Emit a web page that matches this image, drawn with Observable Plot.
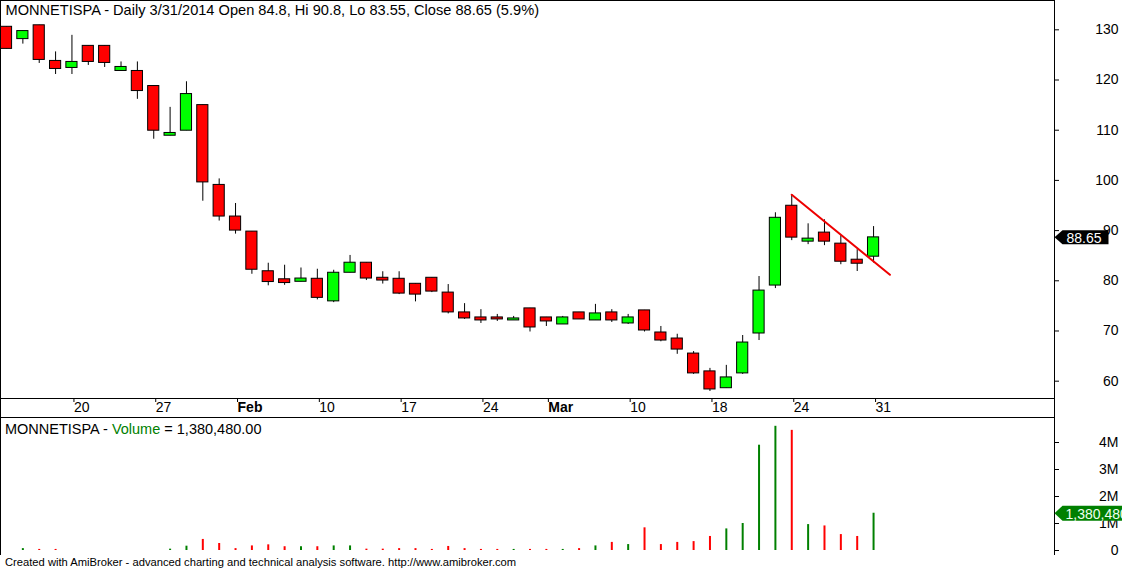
<!DOCTYPE html>
<html>
<head>
<meta charset="utf-8">
<script src="https://cdn.jsdelivr.net/npm/d3@7"></script>
<script src="https://cdn.jsdelivr.net/npm/@observablehq/plot@0.6"></script>
<style>
  html, body { margin: 0; padding: 0; background: white; }
  body { width: 1122px; height: 570px; position: relative; overflow: hidden; font-family: "Liberation Sans", Arial, sans-serif; }
  #price, #volume { position: absolute; left: 0; }
  #price { top: 0; }
  #volume { top: 417px; }
  .ovl { position: absolute; white-space: nowrap; color: black; }
  #vtitle { left: 5px; top: 421px; font-size: 14.5px; line-height: 16px; }
  #caption { left: 5px; top: 556px; font-size: 11.2px; line-height: 13px; }
</style>
</head>
<body>
<div id="price"></div>
<div id="volume"></div>
<div id="vtitle" class="ovl">MONNETISPA - <span style="color:#008000">Volume</span> = 1,380,480.00</div>
<div id="caption" class="ovl">Created with AmiBroker - advanced charting and technical analysis software. http://www.amibroker.com</div>
<script>
// ---- data (trading days 14 Jan 2014 .. 31 Mar 2014) ----
const opens  = [130.6,128.15,130.9,123.8,122.4,126.8,126.8,121.8,121.8,118.8,108.9,109.9,115.0,99.1,92.8,89.8,81.9,80.3,79.8,80.4,75.9,81.6,83.6,80.6,80.4,79.4,80.6,77.65,73.7,72.7,72.7,72.1,74.5,72.7,71.3,73.7,72.1,73.7,71.5,74.1,69.7,68.5,65.5,61.95,58.6,61.55,69.5,79.05,94.95,87.8,89.6,87.4,84.2,84.8];
const highs  = [130.6,129.75,130.9,125.6,128.9,126.8,126.8,123.6,123.6,118.8,114.55,119.65,115.0,100.3,95.4,89.8,83.5,83.1,82.55,82.3,82.1,85.05,83.6,81.8,81.8,79.4,80.6,79.25,75.45,74.25,73.3,72.9,74.5,72.7,72.9,73.7,75.3,74.25,73.3,74.1,70.9,69.35,65.9,62.55,63.15,69.1,80.85,93.55,97.15,91.35,92.15,89.0,86.2,90.8];
const lows   = [126.2,127.15,123.3,121.1,121.1,122.9,122.5,121.8,116.15,108.2,108.9,109.9,95.85,91.9,89.3,81.3,79.0,79.1,79.8,76.2,75.65,81.6,80.05,79.35,77.25,75.8,77.65,73.4,72.3,71.5,71.9,72.1,69.8,70.9,71.3,72.3,72.1,71.7,71.3,69.8,67.85,65.35,61.35,57.95,58.6,61.35,68.1,78.45,88.0,87.2,87.0,83.2,81.85,83.55];
const closes = [126.2,129.75,124.0,122.2,123.6,123.6,123.4,122.6,117.8,109.9,109.45,117.2,99.6,92.8,90.0,82.2,79.75,79.55,80.45,76.6,81.6,83.6,80.45,80.05,77.45,77.25,77.85,73.7,72.5,72.1,72.3,72.5,70.7,71.9,72.7,72.3,73.5,72.1,72.7,70.1,68.1,66.3,61.55,58.35,60.75,67.7,78.05,92.55,88.6,88.4,87.8,83.8,83.4,88.65];
const volumes = [0,70000,40000,40000,0,0,0,0,0,0,50000,160000,410000,260000,70000,170000,210000,140000,140000,140000,170000,170000,50000,50000,70000,70000,40000,150000,70000,40000,40000,40000,40000,40000,40000,70000,170000,300000,220000,840000,220000,300000,330000,520000,800000,1000000,3900000,4600000,4450000,960000,910000,590000,520000,1380480];

// weekly date ticks (trading-day index) and their labels
const tickIndex  = [4, 9, 14, 19, 24, 29, 33, 38, 43, 48, 53];
const tickLabels = ["20", "27", "Feb", "10", "17", "24", "Mar", "10", "18", "24", "31"];
const monthLabels = ["Feb", "Mar"];

// hand-drawn trend line (index, price)
const trendIdx   = [48, 54];
const trendPrice = [97.15, 81.2];

const priceTicks  = [60, 70, 80, 90, 100, 110, 120, 130];
const volumeTicks = [0, 1e6, 2e6, 3e6, 4e6];

const priceTitle = "MONNETISPA - Daily 3/31/2014 Open 84.8, Hi 90.8, Lo 83.55, Close 88.65 (5.9%)";

// ---- derived tables ----
const bars = opens.map((o, i) => ({i, open: o, high: highs[i], low: lows[i], close: closes[i], vol: volumes[i]}));
const trend = trendIdx.map((t, k) => ({i: t, p: trendPrice[k]}));
const last = bars[bars.length - 1];

const UP = "#00ff00", DOWN = "#ff0000", VUP = "#008000";
const xDomain = [-0.367, 64.06];
const yDomain = [56.55, 135.84];
const vDomain = [-0.185e6, 4.926e6];

const fontStyle = {fontFamily: "'Liberation Sans', Arial, sans-serif", fontSize: "14px", background: "white", color: "black", overflow: "visible"};

// left-pointing price tag shapes
const tag = (w, h) => ({draw(ctx) { ctx.moveTo(0, 0); ctx.lineTo(8, -h / 2); ctx.lineTo(w, -h / 2); ctx.lineTo(w, h / 2); ctx.lineTo(8, h / 2); ctx.closePath(); }});

const labelOf = (i) => tickLabels[tickIndex.indexOf(i)];
const dayTicks = tickIndex.filter(i => !monthLabels.includes(labelOf(i)));
const monTicks = tickIndex.filter(i => monthLabels.includes(labelOf(i)));

const price = Plot.plot({
  width: 1122, height: 417,
  marginTop: 0, marginLeft: 0, marginRight: 68, marginBottom: 19,
  style: fontStyle,
  x: {type: "linear", domain: xDomain, label: null},
  y: {type: "linear", domain: yDomain, label: null},
  color: {type: "identity"},
  marks: [
    Plot.frame({stroke: "black"}),
    Plot.ruleX([xDomain[0], xDomain[1]], {stroke: "black", insetBottom: -19}),
    Plot.axisX(dayTicks, {anchor: "bottom", label: null, tickSize: 4, tickPadding: 0, textAnchor: "start", dx: 2, tickFormat: labelOf, fontSize: 14}),
    Plot.axisX(monTicks, {anchor: "bottom", label: null, tickSize: 4, tickPadding: 0, textAnchor: "start", dx: 2, tickFormat: labelOf, fontSize: 14, fontWeight: "bold"}),
    Plot.axisY(priceTicks, {anchor: "right", label: null, tickSize: 4, tickPadding: 60, textAnchor: "end", fontSize: 14}),
    Plot.ruleX(bars, {x: "i", y1: "low", y2: "high", stroke: "black", strokeWidth: 1}),
    Plot.rect(bars, {x1: d => d.i - 0.5, x2: d => d.i + 0.5, y1: "open", y2: "close", insetLeft: 2.6, insetRight: 2.6,
      fill: d => d.close >= d.open ? UP : DOWN, stroke: "black", strokeWidth: 1}),
    Plot.line(trend, {x: "i", y: "p", stroke: "#ee0000", strokeWidth: 2}),
    Plot.text([priceTitle], {frameAnchor: "top-left", dx: 5, dy: 4, lineAnchor: "top", fontSize: 14.6, fill: "black"}),
    Plot.dot([last.close], {y: d => d, frameAnchor: "right", symbol: tag(54, 14), r: 5, fill: "black", stroke: null}),
    Plot.text([last.close], {y: d => d, frameAnchor: "right", text: d => d.toFixed(2), textAnchor: "start", dx: 12, dy: 1, fill: "white", fontSize: 14})
  ]
});
document.getElementById("price").append(price);

const volume = Plot.plot({
  width: 1122, height: 138,
  marginTop: 0, marginLeft: 0, marginRight: 68, marginBottom: 0,
  style: fontStyle,
  x: {type: "linear", domain: xDomain, axis: null, label: null},
  y: {type: "linear", domain: vDomain, label: null},
  color: {type: "identity"},
  marks: [
    Plot.ruleY([vDomain[1]], {stroke: "black"}),
    Plot.ruleX([xDomain[0], xDomain[1]], {stroke: "black"}),
    Plot.axisY(volumeTicks, {anchor: "right", label: null, tickSize: 4, tickPadding: 60, textAnchor: "end", fontSize: 14,
      tickFormat: d => d === 0 ? "0" : (d / 1e6) + "M"}),
    Plot.ruleX(bars.filter(d => d.vol > 0), {x: "i", y1: 0, y2: "vol", stroke: d => d.close >= d.open ? VUP : DOWN, strokeWidth: 2}),
    Plot.dot([last.vol], {y: d => d, frameAnchor: "right", symbol: tag(90, 15), r: 5, fill: VUP, stroke: null}),
    Plot.text([last.vol], {y: d => d, frameAnchor: "right", text: d => d3.format(",")(d), textAnchor: "start", dx: 11, dy: 1, fill: "#f0fff0", fontSize: 14})
  ]
});
document.getElementById("volume").append(volume);
</script>
</body>
</html>
